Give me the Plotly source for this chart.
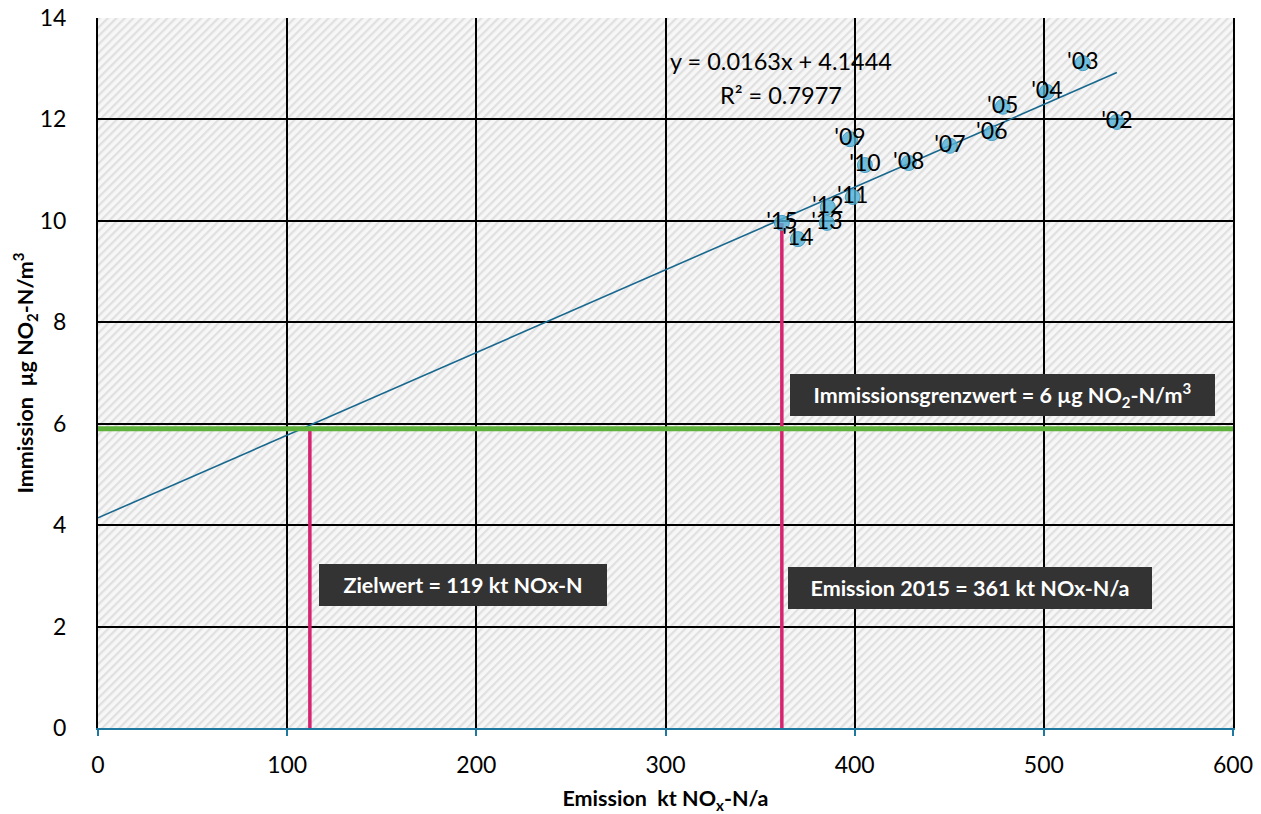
import base64
import plotly.graph_objects as go

# ---------------- data ----------------
years = ["'02", "'03", "'04", "'05", "'06", "'07", "'08", "'09", "'10", "'11", "'12", "'13", "'14", "'15"]
emission = [538.6, 520.6, 501.6, 478.3, 472.5, 450.3, 428.6, 397.5, 405.4, 399.0, 385.8, 385.3, 370.0, 361.5]
immission = [11.95, 13.11, 12.54, 12.25, 11.73, 11.48, 11.14, 11.61, 11.10, 10.47, 10.27, 9.96, 9.64, 9.96]

trend_slope = 0.0163
trend_intercept = 4.1444
trend_r2 = 0.7977

grenzwert_y = 5.9          # plotted limit line (label: 6 µg)
zielwert_x = 112           # plotted target line (label: 119 kt)
emission_2015_x = 361.5
emission_2015_y = 9.96

x_ticks = [0, 100, 200, 300, 400, 500, 600]
y_ticks = [0, 2, 4, 6, 8, 10, 12, 14]

FONT = "Lato"

# ---------------- figure ----------------
fig = go.Figure()

# regression line from 0 to max emission
x0, x1 = 0, max(emission)
fig.add_trace(go.Scatter(
    x=[x0, x1], y=[trend_slope * x0 + trend_intercept, trend_slope * x1 + trend_intercept],
    mode="lines", line=dict(color="#19688f", width=1.6), hoverinfo="skip", showlegend=False))

# magenta vertical lines
fig.add_trace(go.Scatter(x=[zielwert_x, zielwert_x], y=[0, grenzwert_y], mode="lines",
                         line=dict(color="#d6246e", width=3.5), showlegend=False))
fig.add_trace(go.Scatter(x=[emission_2015_x, emission_2015_x], y=[0, emission_2015_y], mode="lines",
                         line=dict(color="#d6246e", width=3.5), showlegend=False))

# green limit line
fig.add_trace(go.Scatter(x=[x_ticks[0], x_ticks[-1]], y=[grenzwert_y, grenzwert_y], mode="lines",
                         line=dict(color="#5eb13a", width=5), showlegend=False))

# data points with year labels
fig.add_trace(go.Scatter(
    x=emission, y=immission, mode="markers+text", text=years, textposition="middle center",
    textfont=dict(family=FONT, size=23, color="#000000"),
    marker=dict(size=15, color="rgba(80,176,214,0.8)", line=dict(color="rgba(60,150,190,0.9)", width=1)),
    showlegend=False))

# hatched background
svg = ('<svg xmlns="http://www.w3.org/2000/svg" width="1135" height="710">'
       '<defs><pattern id="h" width="6" height="6" patternUnits="userSpaceOnUse" patternTransform="rotate(45)">'
       '<rect width="6" height="6" fill="#f7f7f7"/><rect width="2.3" height="6" fill="#e0e0e0"/>'
       '</pattern></defs><rect width="100%" height="100%" fill="url(#h)"/></svg>')
src = "data:image/svg+xml;base64," + base64.b64encode(svg.encode()).decode()

box = dict(bgcolor="#333333", font=dict(family=FONT, size=21.5, color="white", weight="bold"),
           showarrow=False, xref="x", yref="y", borderpad=0, borderwidth=0, height=42)

fig.update_layout(
    width=1261, height=814,
    margin=dict(l=98, r=28, t=18, b=86),
    paper_bgcolor="white", plot_bgcolor="#ececec",
    font=dict(family=FONT, size=23, color="#000000"),
    images=[dict(source=src, xref="paper", yref="paper", x=0, y=1, sizex=1, sizey=1,
                 xanchor="left", yanchor="top", sizing="stretch", layer="below")],
    xaxis=dict(range=[x_ticks[0], x_ticks[-1]], tickvals=x_ticks, showgrid=True, gridcolor="#000000",
               gridwidth=1.5, zeroline=False, showline=True, linecolor="#1f78a0", linewidth=2,
               ticks="outside", ticklen=6, tickcolor="#1f78a0", tickwidth=2, ticklabelstandoff=9,
               tickfont=dict(family=FONT, size=23), automargin=False,
               title=dict(text="Emission\u00a0 kt NO<sub>x</sub>-N/a",
                          font=dict(family=FONT, size=21.5, weight="bold"), standoff=16)),
    yaxis=dict(range=[y_ticks[0], y_ticks[-1]], tickvals=y_ticks, showgrid=True, gridcolor="#000000",
               gridwidth=1.5, zeroline=False, showline=True, linecolor="#000000", linewidth=2, mirror=True,
               ticks="outside", ticklen=25, tickcolor="rgba(0,0,0,0)", automargin=False,
               tickfont=dict(family=FONT, size=23),
               title=dict(text="Immission\u00a0 µg NO<sub>2</sub>-N/m<sup>3</sup>",
                          font=dict(family=FONT, size=21.5, weight="bold"), standoff=0)),
    annotations=[
        dict(x=361, y=13.15, text=f"y = {trend_slope}x + {trend_intercept}", showarrow=False,
             font=dict(family=FONT, size=23.5)),
        dict(x=361, y=12.48, text=f"R² = {trend_r2}", showarrow=False, font=dict(family=FONT, size=23.5)),
        dict(box, x=192.9, y=2.82, text="Zielwert = 119 kt NOx-N", width=288),
        dict(box, x=460.9, y=2.76, text="Emission 2015 = 361 kt NOx-N/a", width=364),
        dict(box, x=478, y=6.56, text="Immissionsgrenzwert = 6 µg NO<sub>2</sub>-N/m<sup>3</sup>", width=425),
    ],
)

fig.write_html("out.html", config={"displayModeBar": False},
               post_script="document.body.style.margin='0px';document.body.style.overflow='hidden';")
